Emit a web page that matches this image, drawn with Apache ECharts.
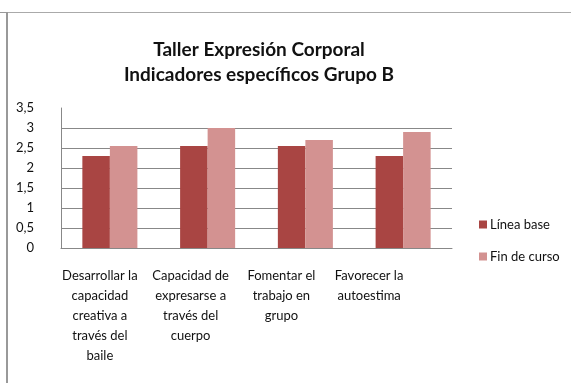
<!DOCTYPE html>
<html>
<head>
<meta charset="utf-8">
<script src="https://cdn.jsdelivr.net/npm/echarts@6/dist/echarts.min.js"></script>
<style>
  html, body { margin: 0; padding: 0; background: #fff; }
  #chart { width: 571px; height: 383px; }
</style>
</head>
<body>
<div id="chart"></div>
<script>
// Indicator categories (multi-line labels)
const categories = [
  'Desarrollar la\ncapacidad\ncreativa a\ntravés del\nbaile',
  'Capacidad de\nexpresarse a\ntravés del\ncuerpo',
  'Fomentar el\ntrabajo en\ngrupo',
  'Favorecer la\nautoestima'
];
const seriesNames = ['Línea base', 'Fin de curso'];
const lineaBase = [2.3, 2.55, 2.55, 2.3];
const finDeCurso = [2.55, 3.0, 2.7, 2.9];
const yTicks = [0, 0.5, 1, 1.5, 2, 2.5, 3, 3.5];

const chart = echarts.init(document.getElementById('chart'), null, { renderer: 'canvas' });
const font = 'Lato, "Liberation Sans", sans-serif';

// Each category label sits a little left of its bar pair
const labelShift = [20, 34, 48, 68];
const rich = {};
labelShift.forEach((p, i) => {
  rich['c' + i] = { fontFamily: font, fontSize: 13, color: '#111', lineHeight: 20, padding: [0, p, 0, 0] };
});

chart.setOption({
  animation: false,
  backgroundColor: '#fff',
  title: {
    text: 'Taller Expresión Corporal\nIndicadores específicos Grupo B',
    left: 254,
    top: 32,
    textAlign: 'center',
    textStyle: { fontFamily: font, fontSize: 19, fontWeight: 'bold', color: '#111', lineHeight: 25 }
  },
  legend: {
    orient: 'vertical',
    left: 474,
    top: 213,
    itemWidth: 8,
    itemHeight: 8,
    itemGap: 19,
    icon: 'rect',
    data: seriesNames,
    textStyle: { fontFamily: font, fontSize: 13, color: '#111', padding: [0, 0, 0, -2] }
  },
  grid: { left: 61, right: 119, top: 108, bottom: 135, containLabel: false },
  xAxis: {
    type: 'category',
    data: categories,
    axisTick: { show: false },
    axisLine: { show: true, lineStyle: { color: '#888', width: 1 } },
    axisLabel: {
      margin: 18,
      interval: 0,
      formatter: (v, i) => v.split('\n').map(l => '{c' + i + '|' + l + '}').join('\n'),
      rich: rich
    }
  },
  yAxis: {
    type: 'value',
    min: yTicks[0],
    max: yTicks[yTicks.length - 1],
    interval: 0.5,
    axisLine: { show: true, lineStyle: { color: '#888', width: 1 } },
    axisTick: { show: false },
    axisLabel: {
      margin: 27,
      fontFamily: font, fontSize: 13, color: '#111',
      formatter: v => String(v).replace('.', ',')
    },
    // no rule along the 3,5 edge
    splitLine: { show: true, lineStyle: { color: ['#888', '#888', '#888', '#888', '#888', '#888', '#888', 'rgba(0,0,0,0)'], width: 1 } }
  },
  series: [
    {
      name: seriesNames[0], type: 'bar', data: lineaBase,
      barGap: '0%', barCategoryGap: '43.7%',
      itemStyle: { color: '#A94543' }
    },
    {
      name: seriesNames[1], type: 'bar', data: finDeCurso,
      itemStyle: { color: '#D39291' }
    }
  ],
  graphic: [
    // outer frame
    { type: 'rect', shape: { x: 0, y: 12, width: 6, height: 1 }, style: { fill: '#999' }, silent: true },
    { type: 'rect', shape: { x: 6, y: 12, width: 2, height: 371 }, style: { fill: '#999' }, silent: true },
    { type: 'rect', shape: { x: 8, y: 12, width: 563, height: 1 }, style: { fill: '#aaa' }, silent: true }
  ]
});
</script>
</body>
</html>
